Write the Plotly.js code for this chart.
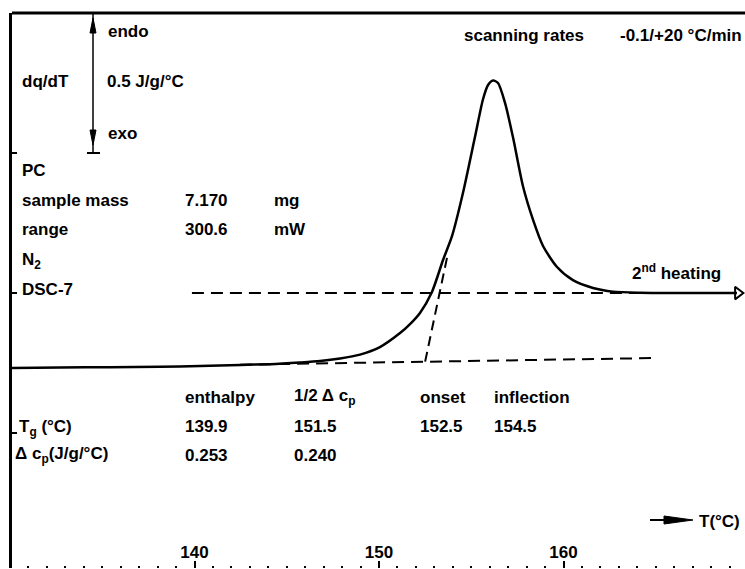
<!DOCTYPE html>
<html>
<head>
<meta charset="utf-8">
<script src="https://cdn.plot.ly/plotly-3.0.1.min.js"></script>
<style>
  html, body { margin: 0; padding: 0; background: #fff; }
  #chart { width: 745px; height: 569px; }
</style>
</head>
<body>
<div id="chart"></div>
<script>
// DSC trace of PC, 2nd heating: dq/dT (J/g/°C) against temperature (°C)
const temperature = [130.11, 132.71, 135.42, 138.13, 140.30, 142.47, 144.09, 145.72, 146.80, 147.89,
                     148.97, 150.05, 151.14, 151.68, 152.22, 152.87, 153.47, 153.96, 154.55, 155.20,
                     155.64, 155.91, 156.18, 156.45, 156.83, 157.26, 157.80, 158.35, 158.89, 159.65,
                     160.51, 161.60, 162.68, 164.15, 166.31, 169.40];
const heatFlow = [-0.268, -0.266, -0.265, -0.263, -0.261, -0.257, -0.254, -0.248, -0.243, -0.234,
                  -0.220, -0.193, -0.143, -0.111, -0.071, 0.004, 0.118, 0.204, 0.357, 0.557,
                  0.693, 0.743, 0.759, 0.750, 0.679, 0.557, 0.382, 0.261, 0.168, 0.093,
                  0.046, 0.018, 0.005, 0.001, 0.0, 0.0];

// extrapolated liquid (upper) and glass (lower) baselines, and the onset tangent
const liquidBaseT = [139.86, 169.45];
const liquidBaseV = [0, 0];
const glassBaseT = [142.47, 165.07];
const glassBaseV = [-0.256, -0.232];
const onsetTg = 152.5;
const tangentT = [onsetTg, 153.74];
const tangentV = [-0.245, 0.143];

// evaluation table
const methods = ['enthalpy', '1/2 \u0394 c<sub>p</sub>', 'onset', 'inflection'];
const tgValues = [139.9, 151.5, 152.5, 154.5];
const dcpValues = [0.253, 0.240];

// sample information
const infoLabels = ['sample mass', 'range'];
const infoValues = ['7.170', '300.6'];
const infoUnits = ['mg', 'mW'];

// plot box in pixels
const L = 12, T = 13, W = 745, H = 569, B = 1;
const PW = W - L, PH = H - T - B;
const px = x => (x - L) / PW;
const py = y => (H - B - y) / PH;

const FONT = { family: 'Liberation Sans, Arial, Helvetica, sans-serif', size: 17, color: '#000', weight: 'bold' };

function label(text, x, y, extra) {
  return Object.assign({
    xref: 'paper', yref: 'paper', x: px(x), y: py(y),
    xanchor: 'left', yanchor: 'middle', text: text, showarrow: false, font: FONT
  }, extra || {});
}

const dashStyle = '12px,7px';

const traces = [
  { x: liquidBaseT, y: liquidBaseV, mode: 'lines', line: { color: '#000', width: 2, dash: dashStyle }, hoverinfo: 'skip' },
  { x: glassBaseT, y: glassBaseV, mode: 'lines', line: { color: '#000', width: 2, dash: dashStyle }, hoverinfo: 'skip' },
  { x: tangentT, y: tangentV, mode: 'lines', line: { color: '#000', width: 2, dash: '10px,6px' }, hoverinfo: 'skip' },
  { x: temperature, y: heatFlow, mode: 'lines', line: { color: '#000', width: 2.5, shape: 'spline', smoothing: 0.7 } },
  { x: [liquidBaseT[1]], y: [liquidBaseV[1]], mode: 'markers',
    marker: { symbol: 'triangle-right-open', size: 11, color: '#000', line: { width: 2, color: '#000' } }, hoverinfo: 'skip' }
];

const annotations = [
  label('endo', 106, 32),
  label('dq/dT', 20, 82),
  label('0.5 J/g/\u00b0C', 105, 82),
  label('exo', 106, 133),
  label('PC', 20, 170),
  label('N<sub>2</sub>', 20, 261),
  label('DSC-7', 20, 289),
  label('scanning rates', 462, 35),
  label('-0.1/+20 \u00b0C/min', 618, 35),
  label('2<sup>nd</sup> heating', 630, 272),
  label('T<sub>g</sub> (\u00b0C)', 17, 428),
  label('\u0394 c<sub>p</sub>(J/g/\u00b0C)', 13, 455),
  label('T(\u00b0C)', 697, 521)
];
infoLabels.forEach((t, i) => {
  const y = 200 + i * 29;
  annotations.push(label(t, 20, y), label(infoValues[i], 183, y), label(infoUnits[i], 272, y));
});
const colX = [183, 292, 418, 492];
methods.forEach((m, i) => {
  annotations.push(label(m, colX[i], 397));
  annotations.push(label(tgValues[i].toFixed(1), colX[i], 427));
  if (i < dcpValues.length) annotations.push(label(dcpValues[i].toFixed(3), colX[i], 455));
});

const blk = { color: '#000', width: 2 };
const tri = (pts) => 'M ' + pts.map(p => px(p[0]) + ',' + py(p[1])).join(' L ') + ' Z';
const shapes = [
  // top frame line
  { type: 'line', xref: 'paper', yref: 'paper', x0: 0, x1: 1, y0: 1, y1: 1, line: { color: '#000', width: 3 } },
  // endo / exo scale bar
  { type: 'line', xref: 'paper', yref: 'paper', x0: px(93), x1: px(93), y0: py(13), y1: py(153), line: { color: '#000', width: 1.5 } },
  { type: 'line', xref: 'paper', yref: 'paper', x0: px(87), x1: px(100), y0: py(153), y1: py(153), line: blk },
  { type: 'path', xref: 'paper', yref: 'paper', path: tri([[93, 18], [90, 33], [96, 33]]), fillcolor: '#000', line: { color: '#000', width: 1 } },
  { type: 'path', xref: 'paper', yref: 'paper', path: tri([[93, 145], [90, 130], [96, 130]]), fillcolor: '#000', line: { color: '#000', width: 1 } },
  // temperature direction arrow
  { type: 'line', xref: 'paper', yref: 'paper', x0: px(650), x1: px(668), y0: py(520), y1: py(520), line: blk },
  { type: 'path', xref: 'paper', yref: 'paper', path: tri([[664, 516], [693, 520], [664, 524]]), fillcolor: '#000', line: { color: '#000', width: 1 } }
];

const layout = {
  width: W, height: H,
  margin: { l: L, r: 0, t: T, b: B, pad: 0 },
  paper_bgcolor: '#fff', plot_bgcolor: '#fff',
  showlegend: false,
  xaxis: {
    range: [130.108, 169.837],
    showline: false, showgrid: false, zeroline: false,
    ticks: 'inside', ticklen: 7, tickwidth: 2, tickcolor: '#000',
    tick0: 0, dtick: 10,
    minor: { dtick: 1, ticks: 'inside', ticklen: 2, tickwidth: 2, tickcolor: '#000', showgrid: false },
    ticklabelposition: 'inside',
    tickfont: FONT
  },
  yaxis: {
    range: [-0.982, 1.0],
    showline: true, linecolor: '#000', linewidth: 3,
    showgrid: false, zeroline: false,
    ticks: 'inside', ticklen: 5, tickwidth: 2, tickcolor: '#000',
    tick0: 0, dtick: 0.5,
    showticklabels: false
  },
  annotations: annotations,
  shapes: shapes
};

Plotly.newPlot('chart', traces, layout, { displayModeBar: false, staticPlot: true });
</script>
</body>
</html>
